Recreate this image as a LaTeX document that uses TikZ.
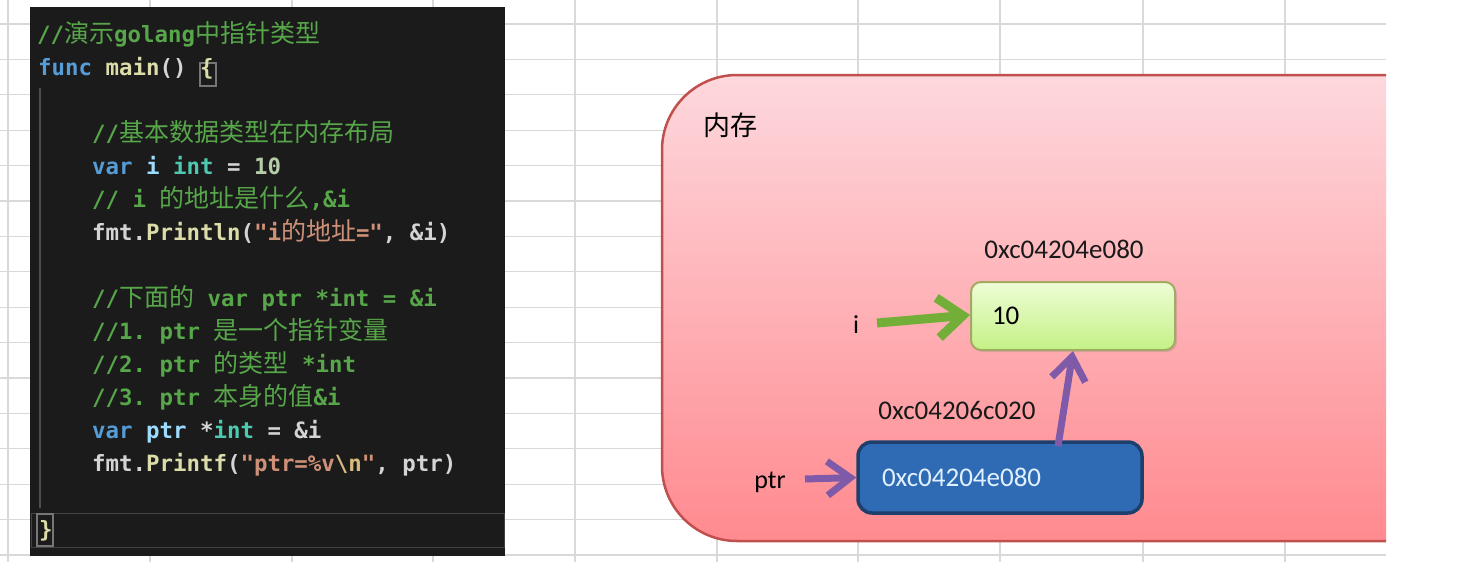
\documentclass[tikz,border=0pt]{standalone}
\usepackage{fontspec}
\setmainfont{Carlito}
\setmonofont{DejaVu Sans Mono}
\newfontfamily\cjk{Noto Sans CJK SC}
\usetikzlibrary{arrows.meta,shadows,calc}
\definecolor{gridc}{HTML}{D9D9D9}
\definecolor{codebg}{HTML}{1B1B1B}
\definecolor{cmt}{HTML}{57A64A}
\definecolor{kw}{HTML}{569CD6}
\definecolor{fnc}{HTML}{DCDCAA}
\definecolor{va}{HTML}{9CDCFE}
\definecolor{ty}{HTML}{4EC9B0}
\definecolor{nm}{HTML}{B5CEA8}
\definecolor{stc}{HTML}{CE9178}
\definecolor{pu}{HTML}{D4D4D4}
\definecolor{esc}{HTML}{D7BA7D}
\definecolor{memtop}{HTML}{FDD8DD}
\definecolor{membot}{HTML}{FF8A8F}
\definecolor{memline}{HTML}{C0504D}
\definecolor{gtop}{HTML}{EEFDD6}
\definecolor{gbot}{HTML}{C4F186}
\definecolor{gline}{HTML}{A3A862}
\definecolor{bfill}{HTML}{2F6BB4}
\definecolor{bline}{HTML}{1E3F6C}
\definecolor{btext}{HTML}{E2F1FF}
\definecolor{garr}{HTML}{72AE38}
\definecolor{parr}{HTML}{7F5AA8}
\newcommand\zh[1]{{\cjk\mdseries\fontsize{25}{28}\selectfont #1}}
\newcommand\Ckw[1]{\textcolor{kw}{#1}}
\newcommand\Cfn[1]{\textcolor{fnc}{#1}}
\newcommand\Cva[1]{\textcolor{va}{#1}}
\newcommand\Cty[1]{\textcolor{ty}{#1}}
\newcommand\Cnm[1]{\textcolor{nm}{#1}}
\newcommand\Cst[1]{\textcolor{stc}{#1}}
\newcommand\Cpu[1]{\textcolor{pu}{#1}}
\newcommand\Ccm[1]{\textcolor{cmt}{#1}}
\begin{document}
\begin{tikzpicture}[x=1pt,y=-1pt,
  gridline/.style={draw=gridc,line width=1.2pt},
  code/.style={anchor=base west,inner sep=0pt,font=\ttfamily\bfseries\fontsize{22.4}{26}\selectfont,text=pu},
  lbl/.style={inner sep=0pt,font=\fontsize{27}{30}\selectfont,text=black!90},
  garrow/.style={draw=garr,line width=9pt,-{Straight Barb[length=25pt,width=40pt]}},
  parrow/.style={draw=parr,line width=7pt,-{Straight Barb[length=23pt,width=34pt]}}]
\useasboundingbox (0,0) rectangle (1482,582);
\fill[white] (0,0) rectangle (1482,582);
% spreadsheet grid
\foreach \x in {8,150,292,433,575,717,858,1000,1143,1285}
  \draw[gridline] (\x,0) -- (\x,562);
\foreach \k in {0,...,15}
  \draw[gridline] (0,{24+35.4*\k}) -- (1386,{24+35.4*\k});
% code panel
\fill[codebg] (30,7) rectangle (505,556);
\draw[draw=white!17!codebg,line width=1pt] (31,513) rectangle (504,547);
\draw[draw=white!22!codebg,line width=1.2pt] (40,88) -- (40,508);
\draw[draw=white!40!codebg,line width=1.2pt] (200,63) rectangle (216,86);
\draw[draw=white!40!codebg,line width=1.2pt] (37,514) rectangle (53,546);
\node[code] (c1) at (37,42) {\Ccm{//\zh{演示}golang\zh{中指针类型}}};
\node[code] (c2) at (38,75) {\Ckw{func} \Cfn{main}\Cpu{()} \Cfn{\{}};
\node[code] (c4) at (92,141) {\Ccm{//\zh{基本数据类型在内存布局}}};
\node[code] (c5) at (92,174) {\Ckw{var} \Cva{i} \Cty{int} \Cpu{=} \Cnm{10}};
\node[code] (c6) at (92,207) {\Ccm{// i \zh{的地址是什么},\&i}};
\node[code] (c7) at (92,240) {\Cpu{fmt.}\Cfn{Println}\Cpu{(}\Cst{"i\zh{的地址}="}\Cpu{, \&i)}};
\node[code] (c9) at (92,306) {\Ccm{//\zh{下面的} var ptr *int = \&i}};
\node[code] (c10) at (92,339) {\Ccm{//1. ptr \zh{是一个指针变量}}};
\node[code] (c11) at (92,372) {\Ccm{//2. ptr \zh{的类型} *int}};
\node[code] (c12) at (92,405) {\Ccm{//3. ptr \zh{本身的值}\&i}};
\node[code] (c13) at (92,438) {\Ckw{var} \Cva{ptr} \Cpu{*}\Cty{int} \Cpu{= \&i}};
\node[code] (c14) at (92,471) {\Cpu{fmt.}\Cfn{Printf}\Cpu{(}\Cst{"ptr=\%v}\textcolor{esc}{\textbackslash n}\Cst{"}\Cpu{, ptr)}};
\node[code] (c16) at (39,537) {\Cfn{\}}};
% memory region
\begin{scope}
  \clip (0,0) rectangle (1386,582);
  \draw[memline,line width=2.5pt,top color=memtop,bottom color=membot,rounded corners=75pt]
    (662,75) rectangle (1480,541);
\end{scope}
\node[anchor=base west,inner sep=0pt,font=\cjk\fontsize{27}{30}\selectfont] (mem) at (703,135) {内存};
% value box of i
\node[draw=gline,line width=2pt,rounded corners=10pt,top color=gtop,bottom color=gbot,
  minimum width=204pt,minimum height=68pt,text width=162pt,inner xsep=21pt,align=left,
  font=\fontsize{27}{30}\selectfont,
  drop shadow={opacity=0.25,shadow xshift=2pt,shadow yshift=-2pt}] (ibox) at (1073,316) {10};
\node[lbl,anchor=base] (iaddr) at (1064,258) {0xc04204e080};
\node[lbl,anchor=base,font=\fontsize{26}{30}\selectfont,text=black] (ilab) at (856,333) {i};
% pointer box
\node[draw=bline,line width=3.5pt,rounded corners=14pt,fill=bfill,text=btext,
  minimum width=284pt,minimum height=71pt,text width=236pt,inner xsep=24pt,align=left,
  font=\fontsize{27}{30}\selectfont] (pbox) at (1000,477.5) {0xc04204e080};
\node[lbl,anchor=base] (paddr) at (957,419) {0xc04206c020};
\node[lbl,anchor=base,font=\fontsize{26}{30}\selectfont,text=black] (plab) at (770,488) {ptr};
% arrows
\coordinate (gs) at (877,323);
\draw[garrow] (gs) -- ([yshift=1pt]ibox.west);
\coordinate (ps) at (805,479);
\draw[parrow] (ps) -- (pbox.west);
\draw[parrow] ([xshift=58pt,yshift=-6pt]pbox.north) -- (ibox.south);
\end{tikzpicture}
\end{document}
